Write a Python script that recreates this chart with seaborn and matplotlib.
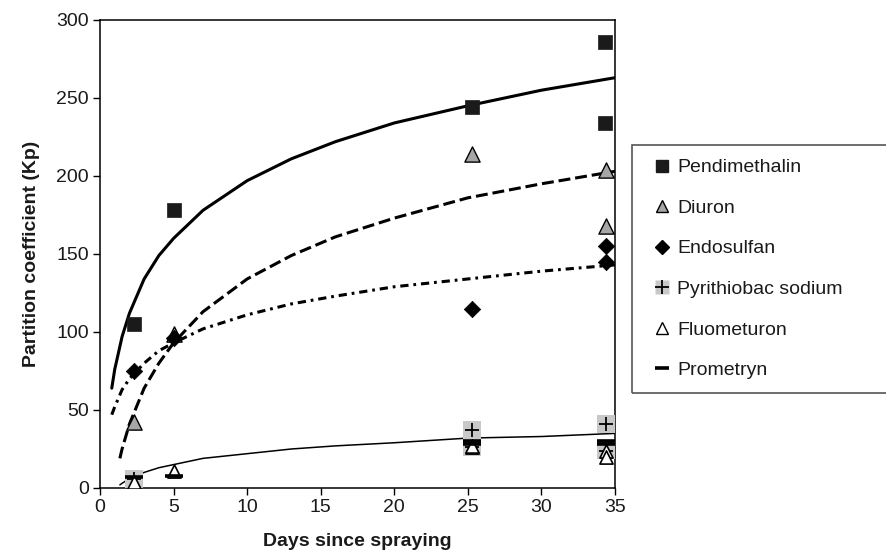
import matplotlib
matplotlib.use("Agg")
import matplotlib.pyplot as plt
from matplotlib.lines import Line2D
from matplotlib.patches import Rectangle
import seaborn as sns
import pandas as pd

# ---------------- data ----------------
pend_x = [2.3, 5.0, 25.3, 34.3, 34.3]
pend_y = [105, 178, 244, 286, 234]

diur_x = [2.3, 5.0, 25.3, 34.4, 34.4]
diur_y = [42, 99, 214, 204, 168]

endo_x = [2.3, 5.0, 25.3, 34.4, 34.4]
endo_y = [75, 96, 115, 155, 145]

pyri_x = [2.3, 25.3, 25.3, 34.4, 34.4]
pyri_y = [6, 37, 26, 41, 24]

fluo_x = [2.3, 5.0, 25.3, 25.3, 34.4, 34.4]
fluo_y = [4, 11, 26, 27, 24, 20]

prom_x = [2.3, 5.0, 25.3, 25.3, 34.4, 34.4]
prom_y = [7, 8, 30, 28, 30, 28]

# trend curves
pend_cx = [0.8, 1, 1.5, 2, 3, 4, 5, 7, 10, 13, 16, 20, 25, 30, 35]
pend_cy = [64, 76, 97, 112, 134, 149, 160, 178, 197, 211, 222, 234, 245, 255, 263]

diur_cx = [1.35, 1.5, 2, 3, 4, 5, 7, 10, 13, 16, 20, 25, 30, 35]
diur_cy = [19, 25, 41, 64, 80, 93, 113, 134, 149, 161, 173, 186, 195, 203]

endo_cx = [0.8, 1, 1.5, 2, 3, 4, 5, 7, 10, 13, 16, 20, 25, 30, 35]
endo_cy = [47, 52, 63, 70, 80, 88, 93, 102, 111, 118, 123, 129, 134, 139, 143]

prom_cx = [1.35, 1.5, 2, 3, 4, 5, 7, 10, 13, 16, 20, 25, 30, 35]
prom_cy = [2, 3, 6, 10, 13, 15, 19, 22, 25, 27, 29, 32, 33, 35]

x_ticks = [0, 5, 10, 15, 20, 25, 30, 35]
y_ticks = [0, 50, 100, 150, 200, 250, 300]
labels = ["Pendimethalin", "Diuron", "Endosulfan", "Pyrithiobac sodium",
          "Fluometuron", "Prometryn"]
x_label = "Days since spraying"
y_label = "Partition coefficient (Kp)"

# ---------------- style ----------------
sns.set_theme(style="white")
plt.rcParams["font.family"] = ["Liberation Sans", "DejaVu Sans"]

fig = plt.figure(figsize=(8.87, 5.53), dpi=100)
ax = fig.add_axes([100 / 887, 1 - 488 / 553, 515 / 887, 468 / 553])

# ---------------- curves ----------------
def curve(x, y, **kw):
    sns.lineplot(x=x, y=y, ax=ax, color="black", legend=False,
                 estimator=None, sort=False, **kw)

curve(pend_cx, pend_cy, linewidth=2.2, zorder=2)
curve(diur_cx, diur_cy, linewidth=2.2, zorder=2)
ax.lines[-1].set_dashes((3.9, 1.6))
curve(endo_cx, endo_cy, linewidth=2.2, zorder=2)
ax.lines[-1].set_dashes((2.7, 1.6, 0.9, 1.6))
curve(prom_cx, prom_cy, linewidth=1.1, zorder=2)

# ---------------- points ----------------
sns.scatterplot(x=pyri_x, y=pyri_y, ax=ax, marker="s", s=165,
                color="#c8c8c8", edgecolor="none", linewidth=0, zorder=3)
sns.scatterplot(x=pyri_x, y=pyri_y, ax=ax, marker="+", s=110,
                color="black", linewidth=1.3, zorder=4)
sns.scatterplot(x=pend_x, y=pend_y, ax=ax, marker="s", s=90,
                color="#1a1a1a", edgecolor="#1a1a1a", linewidth=0.5, zorder=5)
sns.scatterplot(x=diur_x, y=diur_y, ax=ax, marker="^", s=120,
                color="#a6a6a6", edgecolor="black", linewidth=1.0, zorder=5)
sns.scatterplot(x=endo_x, y=endo_y, ax=ax, marker="D", s=70,
                color="black", edgecolor="black", linewidth=0.5, zorder=5)
sns.scatterplot(x=fluo_x, y=fluo_y, ax=ax, marker="^", s=90,
                color="white", edgecolor="black", linewidth=1.2, zorder=5)
sns.scatterplot(x=prom_x, y=prom_y, ax=ax, marker="_", s=150,
                color="black", linewidth=2.6, zorder=6)

# ---------------- axes ----------------
ax.set_xlim(0, 35)
ax.set_ylim(0, 300)
ax.set_xticks(x_ticks)
ax.set_yticks(y_ticks)
ax.tick_params(axis="both", which="major", direction="out", length=5,
               width=1, color="black", labelsize=14, bottom=True, left=True,
               pad=3, labelcolor="#1a1a1a")
for sp in ax.spines.values():
    sp.set_color("black")
    sp.set_linewidth(1.1)
ax.set_xlabel(x_label, fontsize=14, fontweight="bold", color="#1a1a1a",
              labelpad=12)
ax.set_ylabel(y_label, fontsize=14, fontweight="bold", color="#1a1a1a",
              labelpad=12)
ax.grid(False)

# ---------------- legend ----------------
handles = [
    Line2D([], [], linestyle="none", marker="s", markersize=8,
           markerfacecolor="#1a1a1a", markeredgecolor="#1a1a1a"),
    Line2D([], [], linestyle="none", marker="^", markersize=9,
           markerfacecolor="#a6a6a6", markeredgecolor="black", markeredgewidth=1),
    Line2D([], [], linestyle="none", marker="D", markersize=7,
           markerfacecolor="black", markeredgecolor="black"),
    (Line2D([], [], linestyle="none", marker="s", markersize=10,
            markerfacecolor="#c8c8c8", markeredgecolor="none"),
     Line2D([], [], linestyle="none", marker="+", markersize=10,
            markeredgecolor="black", markeredgewidth=1.3)),
    Line2D([], [], linestyle="none", marker="^", markersize=8,
           markerfacecolor="white", markeredgecolor="black", markeredgewidth=1),
    Line2D([], [], linestyle="none", marker="_", markersize=10,
           markeredgecolor="black", markeredgewidth=2.6),
]
fig.legend(handles, labels, loc="upper left",
           bbox_to_anchor=(0.7285, 0.727), frameon=False, fontsize=14,
           handlelength=0.8, handletextpad=0.4, labelspacing=1.18,
           borderaxespad=0, labelcolor="#1a1a1a")
fig.patches.append(Rectangle((632 / 887, 1 - 393 / 553), 0.4, (393 - 145) / 553,
                             transform=fig.transFigure, fill=False,
                             edgecolor="#555555", linewidth=1.2))

fig.savefig("out.png", dpi=100)
